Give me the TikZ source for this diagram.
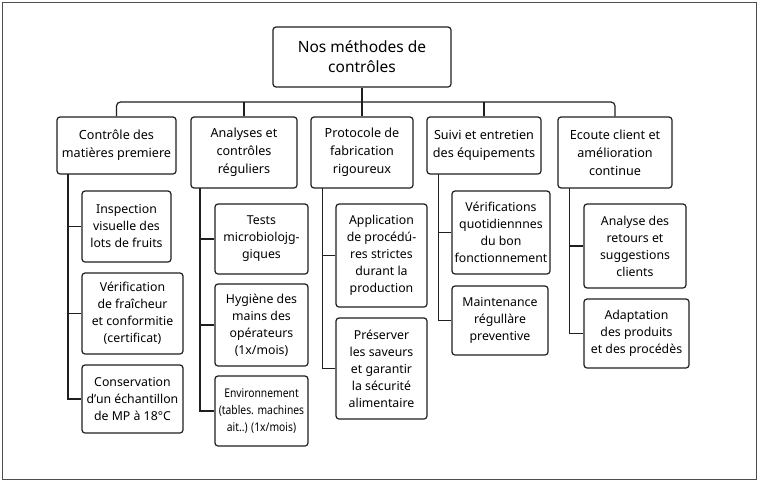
\documentclass[tikz,border=0pt]{standalone}
\usepackage{fontspec}
\setmainfont{Noto Sans}
\newfontfamily\condfont[FakeStretch=0.86]{Noto Sans}
\begin{document}
\begin{tikzpicture}[x=1pt,y=-1pt,
  box/.style={draw=black!88, line width=1.2pt, rounded corners=3pt, fill=white,
    align=center, inner sep=0pt, anchor=center},
  rootbox/.style={box, font=\fontsize{15.5}{20}\selectfont},
  catbox/.style={box, font=\fontsize{12.6}{18}\selectfont},
  itembox/.style={box, font=\fontsize{12.3}{17}\selectfont},
  link/.style={draw=black!88, line width=1.2pt}]
\useasboundingbox (0,0) rectangle (762,482);
\draw[black!70, line width=1pt] (2.5,2.5) rectangle (756,479);

% root
\node[rootbox, minimum width=178pt, minimum height=60pt] (root) at (362,57)
  {Nos méthodes de\\contrôles};

% categories
\node[catbox, minimum width=119pt, minimum height=57pt] (b1) at (116.5,145.5)
  {Contrôle des\\matières premiere};
\node[catbox, minimum width=106pt, minimum height=71pt] (b2) at (244,152.5)
  {Analyses et\\contrôles\\réguliers};
\node[catbox, minimum width=102pt, minimum height=71pt] (b3) at (362,152.5)
  {Protocole de\\fabrication\\rigoureux};
\node[catbox, minimum width=114pt, minimum height=57pt] (b4) at (484,145.5)
  {Suivi et entretien\\des équipements};
\node[catbox, minimum width=114pt, minimum height=71pt] (b5) at (615,152.5)
  {Ecoute client et\\amélioration\\continue};

% bus
\coordinate (bus) at (362,102);
\draw[link] (root.south) -- (bus);
\draw[link, rounded corners=4pt] (b1.north) -- (b1.north |- bus) -| (b5.north);
\draw[link] (b2.north) -- (b2.north |- bus);
\draw[link] (b3.north) -- (b3.north |- bus);
\draw[link] (b4.north) -- (b4.north |- bus);

% items column 1
\node[itembox, minimum width=89pt, minimum height=71pt] (c1a) at (126.5,226.5)
  {Inspection\\visuelle des\\lots de fruits};
\node[itembox, minimum width=101pt, minimum height=81pt] (c1b) at (132.5,313.5)
  {Vérification\\de fraîcheur\\et conformitie\\(certificat)};
\node[itembox, minimum width=101pt, minimum height=68pt] (c1c) at (132.5,399)
  {Conservation\\d’un échantillon\\de MP à 18°C};

% items column 2
\node[itembox, minimum width=93pt, minimum height=70pt] (c2a) at (261.5,239)
  {Tests\\microbiolojg-\\giques};
\node[itembox, minimum width=93pt, minimum height=82pt] (c2b) at (261.5,325)
  {Hygiène des\\mains des\\opérateurs\\(1x/mois)};
\node[itembox, minimum width=93pt, minimum height=70pt, font=\condfont\fontsize{12}{17}\selectfont] (c2c) at (261.5,411)
  {Environnement\\(tables. machines\\ait..) (1x/mois)};

% items column 3
\node[itembox, minimum width=91pt, minimum height=103pt] (c3a) at (381.5,255.5)
  {Application\\de procédú-\\res strictes\\durant la\\production};
\node[itembox, minimum width=91pt, minimum height=101pt] (c3b) at (381.5,368.5)
  {Préserver\\les saveurs\\et garantir\\la sécurité\\alimentaire};

% items column 4
\node[itembox, minimum width=98pt, minimum height=83pt] (c4a) at (501,232.5)
  {Vérifications\\quotidiennnes\\du bon\\fonctionnement};
\node[itembox, minimum width=96pt, minimum height=69pt] (c4b) at (500,320.5)
  {Maintenance\\régullàre\\preventive};

% items column 5
\node[itembox, minimum width=102pt, minimum height=84pt] (c5a) at (635,246)
  {Analyse des\\retours et\\suggestions\\clients};
\node[itembox, minimum width=105pt, minimum height=69pt] (c5b) at (636.5,333.5)
  {Adaptation\\des produits\\et des procédès};

% vertical spines
\coordinate (l1) at (68,174);
\coordinate (l2) at (200,188);
\coordinate (l3) at (322.5,188);
\coordinate (l4) at (438.5,174);
\coordinate (l5) at (569.5,188);

\draw[link] (l1) |- (c1c.west);
\draw[link] (c1a.west) -- (c1a.west -| l1);
\draw[link] (c1b.west) -- (c1b.west -| l1);

\draw[link] (l2) |- (c2c.west);
\draw[link] (c2a.west) -- (c2a.west -| l2);
\draw[link] (c2b.west) -- (c2b.west -| l2);

\draw[link] (l3) |- (c3b.west);
\draw[link] (c3a.west) -- (c3a.west -| l3);

\draw[link] (l4) |- (c4b.west);
\draw[link] (c4a.west) -- (c4a.west -| l4);

\draw[link] (l5) |- (c5b.west);
\draw[link] (c5a.west) -- (c5a.west -| l5);
\end{tikzpicture}
\end{document}
